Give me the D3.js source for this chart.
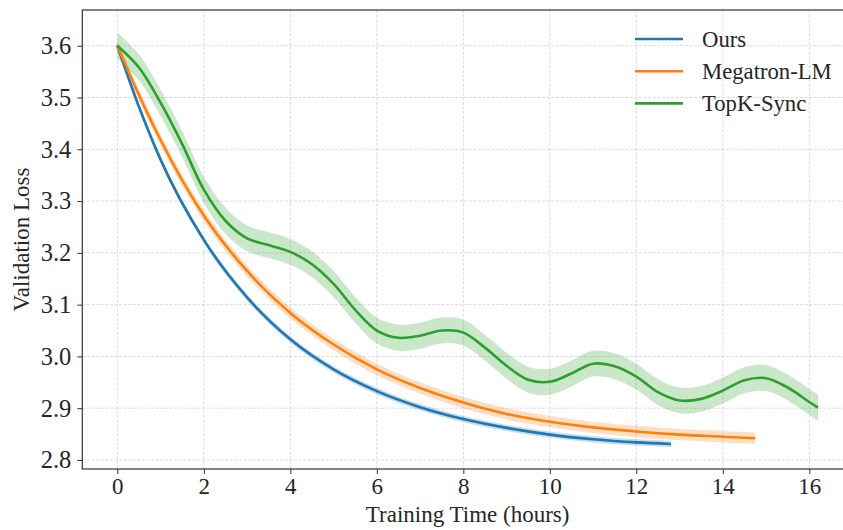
<!DOCTYPE html>
<html>
<head>
<meta charset="utf-8">
<script src="https://cdn.jsdelivr.net/npm/d3@7"></script>
<style>
  body { margin: 0; background: #fff; }
  svg text { font-family: "Liberation Serif", "Times New Roman", serif; fill: #262626; }
</style>
</head>
<body>
<svg id="chart" width="843" height="530"></svg>
<script>
// values
const oursTime = [0, 0.5, 1, 2, 3, 4, 5, 6, 7, 8, 9, 10, 11, 12, 12.8]
const oursLoss = [3.600, 3.482, 3.380, 3.225, 3.114, 3.033, 2.975, 2.933, 2.902, 2.879, 2.862, 2.849, 2.840, 2.834, 2.831]

const megaTime = [0, 0.5, 1, 2, 3, 4, 5, 6, 7, 8, 9, 10, 11, 12, 13, 14, 14.75]
const megaLoss = [3.600, 3.505, 3.418, 3.272, 3.165, 3.084, 3.023, 2.975, 2.939, 2.911, 2.889, 2.874, 2.863, 2.855, 2.849, 2.845, 2.842]

const topkTime = [0, 0.5, 1, 1.5, 2, 2.5, 3, 3.5, 4, 4.5, 5, 5.5, 6, 6.5, 7, 7.5, 8, 8.5, 9, 9.5, 10, 10.5, 11, 11.5, 12, 12.5, 13, 13.5, 14, 14.5, 15, 15.5, 16, 16.2]
const topkLoss = [3.600, 3.558, 3.490, 3.410, 3.322, 3.262, 3.228, 3.215, 3.202, 3.178, 3.140, 3.090, 3.050, 3.036, 3.040, 3.050, 3.046, 3.017, 2.982, 2.955, 2.951, 2.967, 2.986, 2.981, 2.961, 2.931, 2.915, 2.918, 2.934, 2.954, 2.958, 2.940, 2.912, 2.901]

// half width of the shaded band around each curve
const bandWidth = [0.006, 0.011, 0.025]

const seriesNames = ['Ours', 'Megatron-LM', 'TopK-Sync']
const seriesColors = ['#1f77b4', '#ff7f0e', '#2ca02c']
const xTicks = [0, 2, 4, 6, 8, 10, 12, 14, 16]
const yTicks = [2.8, 2.9, 3.0, 3.1, 3.2, 3.3, 3.4, 3.5, 3.6]

const FONT = '"Liberation Serif", "Times New Roman", serif'
const $svg = d3.select('#chart')

const MARGIN = { top: 10, left: 82.3, plotWidth: 770.7, plotHeight: 459 }

const series = [
  { name: seriesNames[0], color: seriesColors[0], band: bandWidth[0], curve: d3.curveMonotoneX, values: oursTime.map((t, i) => ({ t, v: oursLoss[i] })) },
  { name: seriesNames[1], color: seriesColors[1], band: bandWidth[1], curve: d3.curveMonotoneX, values: megaTime.map((t, i) => ({ t, v: megaLoss[i] })) },
  { name: seriesNames[2], color: seriesColors[2], band: bandWidth[2], curve: d3.curveCatmullRom.alpha(0.5), values: topkTime.map((t, i) => ({ t, v: topkLoss[i] })) }
]

const xScale = d3.scaleLinear()
  .domain([-0.81, 17.01])
  .range([MARGIN.left, MARGIN.left + MARGIN.plotWidth])
const yScale = d3.scaleLinear()
  .domain([2.7826, 3.669])
  .range([MARGIN.top + MARGIN.plotHeight, MARGIN.top])

const bottom = MARGIN.top + MARGIN.plotHeight
const right = MARGIN.left + MARGIN.plotWidth

// grid
const $grid = $svg.append('g').attr('class', 'grid')
$grid.selectAll('.gx')
  .data(xTicks)
  .enter()
  .append('line')
    .attr('x1', d => xScale(d)).attr('x2', d => xScale(d))
    .attr('y1', MARGIN.top).attr('y2', bottom)
$grid.selectAll('.gy')
  .data(yTicks)
  .enter()
  .append('line')
    .attr('y1', d => yScale(d)).attr('y2', d => yScale(d))
    .attr('x1', MARGIN.left).attr('x2', right)
$grid.selectAll('line')
  .attr('stroke', '#d2d2d2')
  .attr('stroke-width', 0.8)
  .attr('stroke-dasharray', '3,1.6')

// bands and lines
const $marks = $svg.append('g').attr('class', 'marks')
series.forEach(s => {
  const area = d3.area()
    .x(d => xScale(d.t))
    .y0(d => yScale(d.v - s.band))
    .y1(d => yScale(d.v + s.band))
    .curve(s.curve)
  $marks.append('path')
    .datum(s.values)
    .attr('fill', s.color)
    .attr('fill-opacity', 0.25)
    .attr('d', area)
})
series.forEach(s => {
  const line = d3.line()
    .x(d => xScale(d.t))
    .y(d => yScale(d.v))
    .curve(s.curve)
  $marks.append('path')
    .datum(s.values)
    .attr('fill', 'none')
    .attr('stroke', s.color)
    .attr('stroke-width', 2.6)
    .attr('d', line)
})

// axes
const xAxis = d3.axisBottom(xScale).tickValues(xTicks).tickSize(5).tickPadding(4).tickFormat(d3.format('d'))
const yAxis = d3.axisLeft(yScale).tickValues(yTicks).tickSize(5).tickPadding(6).tickFormat(d3.format('.1f'))

$svg.append('g')
  .attr('transform', `translate(0, ${bottom})`)
  .call(xAxis)
  .attr('font-family', FONT)
  .selectAll('.tick text').attr('font-size', 23)
$svg.append('g')
  .attr('transform', `translate(${MARGIN.left}, 0)`)
  .call(yAxis)
  .attr('font-family', FONT)
  .selectAll('.tick text').attr('font-size', 24.5)
$svg.selectAll('.domain').remove()
$svg.selectAll('.tick line').attr('stroke', '#333').attr('stroke-width', 1)
$svg.selectAll('.tick text').attr('fill', '#262626')

// spines (right one falls outside the picture)
$svg.append('rect')
  .attr('x', MARGIN.left)
  .attr('y', MARGIN.top)
  .attr('width', MARGIN.plotWidth)
  .attr('height', MARGIN.plotHeight)
  .attr('fill', 'none')
  .attr('stroke', '#333')
  .attr('stroke-width', 1.2)

// labels
$svg.append('text')
  .attr('x', (MARGIN.left + right) / 2)
  .attr('y', 522)
  .attr('text-anchor', 'middle')
  .attr('font-size', 23)
  .text('Training Time (hours)')
$svg.append('text')
  .attr('transform', `translate(29, ${MARGIN.top + MARGIN.plotHeight / 2}) rotate(-90)`)
  .attr('text-anchor', 'middle')
  .attr('font-size', 23)
  .text('Validation Loss')

// legend
const $legend = $svg.append('g').attr('class', 'legend')
const $items = $legend.selectAll('.item')
  .data(series)
  .enter()
  .append('g')
    .attr('class', 'item')
    .attr('transform', (d, i) => `translate(635, ${39 + i * 32.2})`)
$items.append('line')
  .attr('x1', 0).attr('x2', 48)
  .attr('stroke', d => d.color)
  .attr('stroke-width', 2.6)
$items.append('text')
  .attr('x', 67)
  .attr('dy', '0.35em')
  .attr('font-size', 22.7)
  .text(d => d.name)
</script>
</body>
</html>
